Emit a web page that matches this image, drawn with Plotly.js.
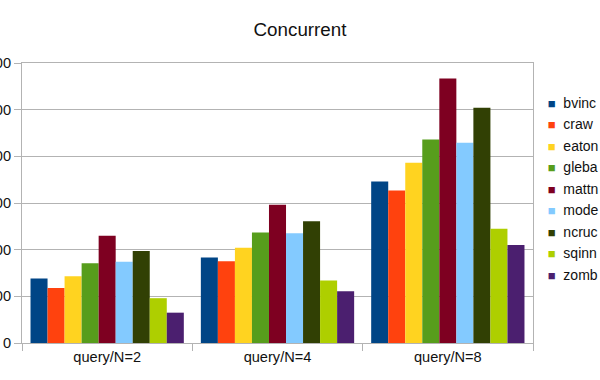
<!DOCTYPE html>
<html>
<head>
<meta charset="utf-8">
<script src="https://cdn.plot.ly/plotly-3.0.1.min.js"></script>
<style>html,body{margin:0;padding:0;background:#fff;}#chart{width:600px;height:380px;}</style>
</head>
<body>
<div id="chart"></div>
<script>
const categories = ["query/N=2", "query/N=4", "query/N=8"];
const seriesNames = ["bvinc", "craw", "eaton", "gleba", "mattn", "mode", "ncruc", "sqinn", "zomb"];
const bvinc = [138, 183, 346];
const craw  = [118, 175, 327];
const eaton = [143, 204, 386];
const gleba = [171, 237, 436];
const mattn = [230, 296, 567];
const mode  = [174, 235, 429];
const ncruc = [197, 261, 504];
const sqinn = [96, 134, 245];
const zomb  = [65, 111, 210];
const seriesValues = [bvinc, craw, eaton, gleba, mattn, mode, ncruc, sqinn, zomb];
const colors = ["#004586", "#ff420e", "#ffd320", "#579d1c", "#7e0021", "#83caff", "#314004", "#aecf00", "#4b1f6f"];
const yTicks = [0, 100, 200, 300, 400, 500, 600];

const traces = [];
seriesNames.forEach((name, i) => {
  traces.push({
    type: "bar", name: name, x: categories, y: seriesValues[i],
    marker: {color: colors[i], line: {width: 0}},
    showlegend: false, legendgroup: name, hoverinfo: "y"
  });
});
seriesNames.forEach((name, i) => {
  traces.push({
    type: "scatter", mode: "markers",
    name: "<span style='color:" + colors[i] + ";font-family:Liberation Sans;font-size:13px'>■</span>\u00a0 " + name,
    x: [categories[0]], y: [null],
    marker: {color: "rgba(0,0,0,0)", symbol: "square", size: 1, line: {width: 0}},
    legendgroup: name, showlegend: true, hoverinfo: "skip"
  });
});

const layout = {
  width: 600, height: 380,
  margin: {l: 22, r: 67, t: 63, b: 37, autoexpand: false},
  paper_bgcolor: "#fff", plot_bgcolor: "#fff",
  font: {family: "Liberation Sans, Arial, sans-serif", size: 14, color: "#111"},
  title: {text: "Concurrent", font: {size: 18.8, color: "#111"}, x: 0.5, xref: "container", y: 1 - 29 / 380, yref: "container", xanchor: "center", yanchor: "middle"},
  barmode: "group", bargap: 0.1, bargroupgap: 0,
  xaxis: {
    type: "category", showline: true, linecolor: "#b3b3b3", linewidth: 1, mirror: true,
    ticks: "outside", tickson: "boundaries", ticklen: 7, tickcolor: "#b3b3b3",
    showgrid: false, tickfont: {size: 14.6, color: "#111"}, fixedrange: true
  },
  yaxis: {
    range: [0, 600], tickvals: yTicks, showline: true, linecolor: "#b3b3b3", linewidth: 1, mirror: true,
    ticks: "outside", ticklen: 7, tickcolor: "#b3b3b3",
    showgrid: true, gridcolor: "#b3b3b3", gridwidth: 1, zeroline: false,
    tickfont: {size: 14.6, color: "#111"}, fixedrange: true
  },
  legend: {
    x: 0.9505, xref: "paper", xanchor: "left", y: 0.551, yanchor: "middle",
    font: {size: 14, color: "#111"}, traceorder: "grouped", tracegroupgap: 0.3,
    bgcolor: "rgba(0,0,0,0)", borderwidth: 0, itemwidth: 30
  },
  showlegend: true
};
Plotly.newPlot("chart", traces, layout, {displayModeBar: false, staticPlot: true});
</script>
</body>
</html>
